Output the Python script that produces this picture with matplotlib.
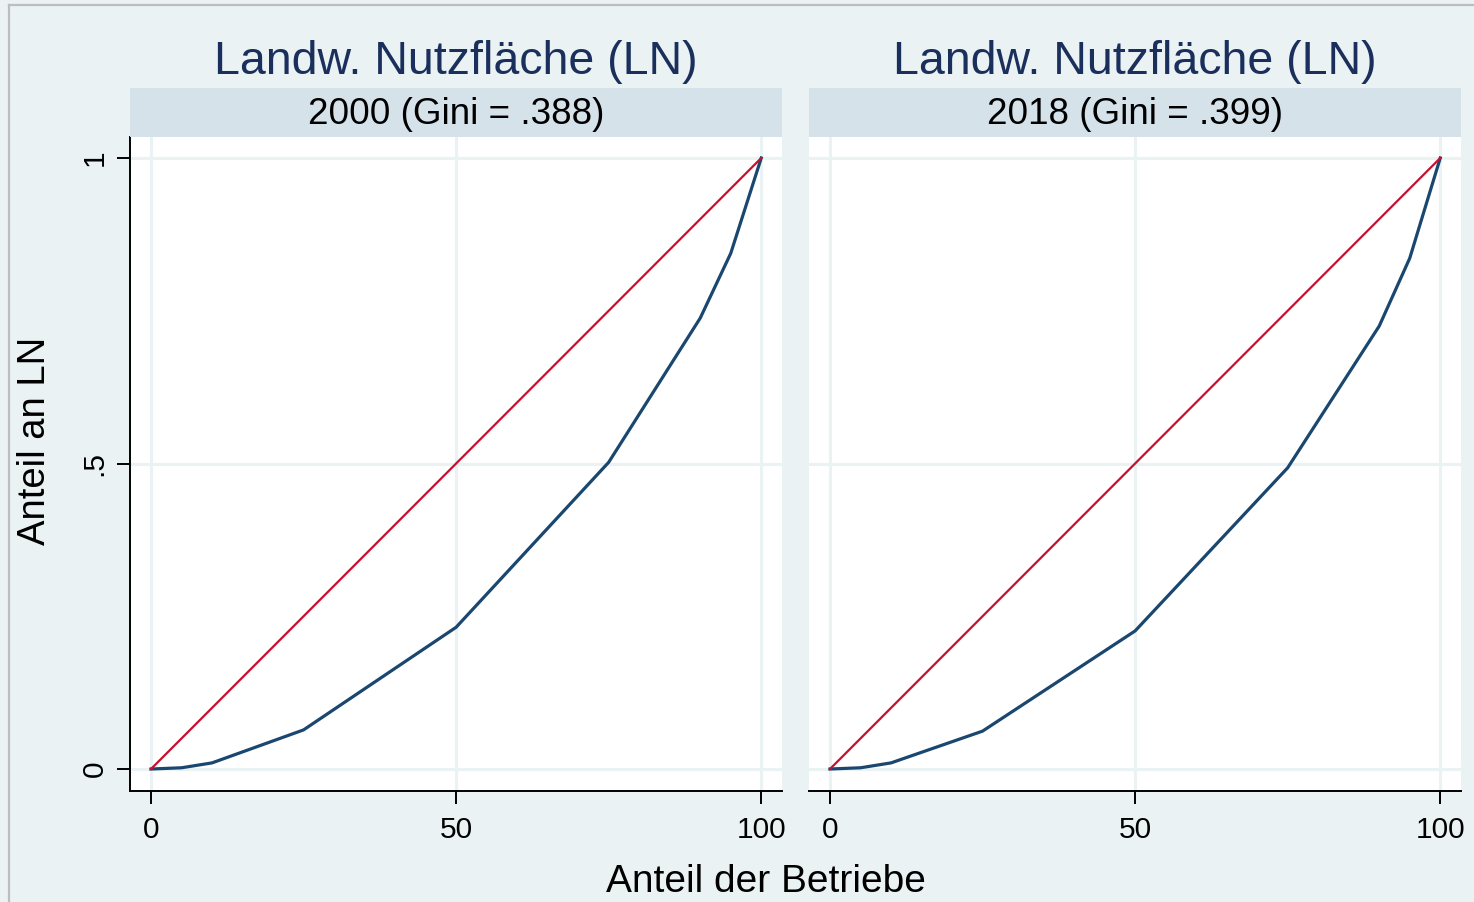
import matplotlib
matplotlib.use("Agg")
import matplotlib.pyplot as plt
from matplotlib.patches import Rectangle

plt.rcParams['font.family'] = ['Liberation Sans', 'DejaVu Sans']

# ---- data ----
panel_titles = ["Landw. Nutzfläche (LN)", "Landw. Nutzfläche (LN)"]
strip_labels = ["2000 (Gini = .388)", "2018 (Gini = .399)"]
share_farms = [0, 5, 10, 25, 50, 75, 90, 95, 100]
lorenz_2000 = [0.0, 0.002, 0.010, 0.064, 0.232, 0.502, 0.738, 0.844, 1.0]
lorenz_2018 = [0.0, 0.002, 0.010, 0.062, 0.226, 0.493, 0.725, 0.836, 1.0]
equality_x = [0, 100]
equality_y = [0, 1]
xticks = [0, 50, 100]
xtick_labels = ["0", "50", "100"]
yticks = [0, 0.5, 1]
ytick_labels = ["0", ".5", "1"]
xlabel = "Anteil der Betriebe"
ylabel = "Anteil an LN"

# ---- style ----
W, H = 1474, 902
BG = "#eaf2f3"
STRIP = "#d6e2e9"
GRID = "#eaf2f3"
NAVY = "#1a476f"
RED = "#c8102e"
TITLE_C = "#1a2f5c"

fig = plt.figure(figsize=(W / 100, H / 100), dpi=100)
fig.patch.set_facecolor(BG)

# outer border (grey line top and left)
fig.add_artist(plt.Line2D([8.5 / W, 1], [1 - 4.5 / H, 1 - 4.5 / H], color="#bdbdbd", lw=1.6,
                          transform=fig.transFigure))
fig.add_artist(plt.Line2D([8.5 / W, 8.5 / W], [0, 1 - 4.5 / H], color="#bdbdbd", lw=1.6,
                          transform=fig.transFigure))

ax_lefts = [130, 809]
ax_w = 652
ax_top, ax_bot = 137, 791
series = [lorenz_2000, lorenz_2018]

for i in range(2):
    l = ax_lefts[i]
    ax = fig.add_axes([l / W, (H - ax_bot) / H, ax_w / W, (ax_bot - ax_top) / H])
    ax.set_facecolor("white")
    ax.set_xlim(-3.44, 103.4)
    ax.set_ylim(-0.036, 1.0344)
    ax.grid(True, color=GRID, lw=2.2, zorder=0)
    ax.set_axisbelow(True)
    ax.plot(share_farms, series[i], color=NAVY, lw=2.3, zorder=3, solid_joinstyle="round")
    ax.plot(equality_x, equality_y, color=RED, lw=1.6, zorder=3)
    for s in ["top", "right"]:
        ax.spines[s].set_visible(False)
    ax.spines["bottom"].set_linewidth(1.4)
    ax.spines["left"].set_linewidth(1.4)
    ax.set_xticks(xticks)
    ax.set_xticklabels(xtick_labels, fontsize=21.5)
    ax.tick_params(axis="x", length=9, width=1.4, pad=9)
    if i == 0:
        ax.set_yticks(yticks)
        ax.set_yticklabels(ytick_labels, fontsize=21.5, rotation=90, va="center")
        ax.tick_params(axis="y", length=9.5, width=1.4, pad=6)
    else:
        ax.spines["left"].set_visible(False)
        ax.set_yticks(yticks)
        ax.tick_params(axis="y", length=0, labelleft=False)

    # strip
    fig.add_artist(Rectangle((l / W, (H - 137) / H), ax_w / W, 49 / H, transform=fig.transFigure,
                             facecolor=STRIP, edgecolor="none"))
    cx = (l + ax_w / 2) / W
    fig.text(cx, (H - 115) / H, strip_labels[i], ha="center", va="center", fontsize=26.6,
             color="black")
    fig.text(cx, (H - 62) / H, panel_titles[i], ha="center", va="center", fontsize=33.5,
             color=TITLE_C)

fig.text(766 / W, (H - 882) / H, xlabel, ha="center", va="center", fontsize=28)
fig.text(35 / W, (H - 441) / H, ylabel, ha="center", va="center", fontsize=27.5, rotation=90)

fig.savefig("out.png", dpi=100, facecolor=BG)
